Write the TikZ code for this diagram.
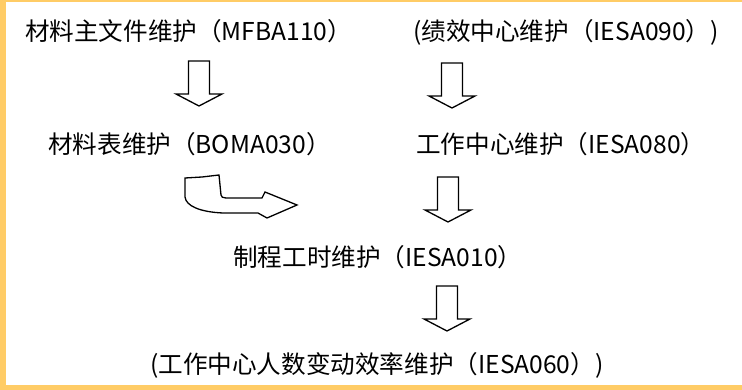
\documentclass[tikz,border=0pt]{standalone}
\usepackage{fontspec}
\setmainfont{Noto Sans CJK SC}
\definecolor{frameorange}{HTML}{FFCC66}
\begin{document}
\begin{tikzpicture}[x=1pt,y=-1pt,
  lbl/.style={anchor=base west,inner sep=0pt,font=\fontsize{24.6}{28}\selectfont,text=black},
  blockarrow/.style={draw=black,line width=1.3pt,fill=white,line join=miter},
  pics/downarrow/.style={code={
    \draw[blockarrow] (-10.5,0) -- (10.5,0) -- (10.5,33) -- (23,33) -- (0,45) -- (-23,33) -- (-10.5,33) -- cycle;
  }}]
\useasboundingbox (0,0) rectangle (742,390);
\fill[white] (0,0) rectangle (742,390);
\fill[frameorange] (0,0) rectangle (742,2);
\fill[frameorange] (0,0) rectangle (6,390);
\fill[frameorange] (0,385) rectangle (742,390);

\node[lbl] (t1) at (25,41) {材料主文件维护（MFBA110）};
\node[lbl] (t2) at (413,41) {(绩效中心维护（IESA090）)};
\node[lbl] (t3) at (48,154) {材料表维护（BOMA030）};
\node[lbl] (t4) at (416,154) {工作中心维护（IESA080）};
\node[lbl] (t5) at (233,267) {制程工时维护（IESA010）};
\node[lbl] (t6) at (150,373) {(工作中心人数变动效率维护（IESA060）)};

\pic (a1) at (199,61) {downarrow};
\pic (a2) at (452,63) {downarrow};
\pic (a3) at (448,177) {downarrow};
\pic (a4) at (447,286) {downarrow};

\draw[blockarrow] (185,178) -- (202,177) -- (219,175) -- (221,195)
  .. controls (221,197) and (223,198) .. (226,198) -- (262,198) -- (265,192)
  -- (297,205) -- (267,218) -- (258,213) -- (223,213)
  .. controls (200,212) and (186,206) .. (185,197) -- cycle;
\end{tikzpicture}
\end{document}
